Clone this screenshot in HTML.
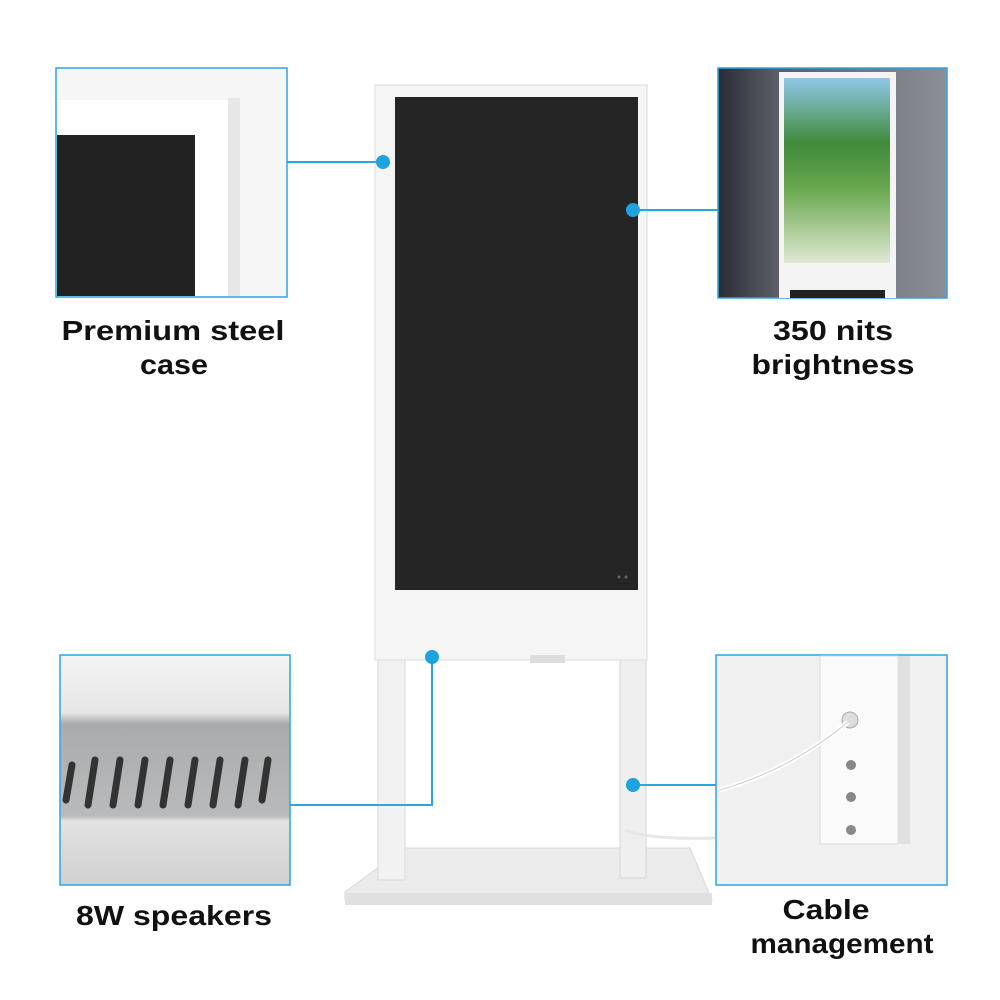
<!DOCTYPE html>
<html><head><meta charset="utf-8"><style>
body{margin:0;background:#fff}
svg{display:block}
text{font-family:"Liberation Sans",sans-serif;font-weight:bold;font-size:28px;fill:#111;text-anchor:middle}
</style></head><body>
<svg width="1000" height="1000" viewBox="0 0 1000 1000" xmlns="http://www.w3.org/2000/svg">
<defs>
<linearGradient id="sky" x1="0" y1="0" x2="0" y2="1"><stop offset="0" stop-color="#8fc8e8"/><stop offset="0.35" stop-color="#3f8a3a"/><stop offset="0.6" stop-color="#6aa84f"/><stop offset="1" stop-color="#dfe9d2"/></linearGradient>
<linearGradient id="wall" x1="0" y1="0" x2="1" y2="0"><stop offset="0" stop-color="#2a2c33"/><stop offset="0.25" stop-color="#5a5d66"/><stop offset="1" stop-color="#8c8f96"/></linearGradient>
<linearGradient id="spk" x1="0" y1="0" x2="0" y2="1"><stop offset="0" stop-color="#f4f4f4"/><stop offset="0.25" stop-color="#e6e6e6"/><stop offset="0.3" stop-color="#a9abad"/><stop offset="0.7" stop-color="#b8babc"/><stop offset="0.72" stop-color="#e2e2e2"/><stop offset="1" stop-color="#d0d0d0"/></linearGradient>
</defs>

<polygon points="405,848 690,848 712,900 345,900 345,892" fill="#ebebeb" stroke="#d8d8d8"/>
<rect x="345" y="893" width="367" height="12" fill="#e0e0e0"/>
<rect x="378" y="655" width="27" height="225" fill="#f2f2f2" stroke="#dadada"/>
<rect x="620" y="640" width="26" height="238" fill="#efefef" stroke="#d6d6d6"/>
<rect x="375" y="85" width="272" height="575" fill="#f5f5f5" stroke="#d9d9d9"/>
<rect x="395" y="97" width="243" height="493" fill="#252525"/>
<rect x="530" y="655" width="35" height="8" fill="#ddd"/>
<circle cx="619" cy="577" r="1.5" fill="#666"/><circle cx="626" cy="577" r="1.5" fill="#666"/>
<path d="M625 830 Q 650 840 715 838" stroke="#e6e6e6" stroke-width="3" fill="none"/>

<rect x="56" y="68" width="231" height="229" fill="#f6f6f6" stroke="#2aa6df" stroke-width="1.5"/>
<rect x="57" y="100" width="172" height="196" fill="#fff"/>
<rect x="57" y="135" width="138" height="161" fill="#222"/>
<rect x="228" y="98" width="12" height="198" fill="#e7e7e7"/>

<rect x="718" y="68" width="229" height="230" fill="url(#wall)" stroke="#2aa6df" stroke-width="1.5"/>
<rect x="779" y="72" width="117" height="226" fill="#f4f4f4"/>
<rect x="784" y="78" width="106" height="185" fill="url(#sky)"/>
<rect x="790" y="290" width="95" height="8" fill="#222"/>

<rect x="60" y="655" width="230" height="230" fill="url(#spk)" stroke="#2aa6df" stroke-width="1.5"/>
<g stroke="#333" stroke-width="7" stroke-linecap="round">
<line x1="72" y1="765" x2="66" y2="800"/><line x1="95" y1="760" x2="88" y2="805"/><line x1="120" y1="760" x2="113" y2="805"/><line x1="145" y1="760" x2="138" y2="805"/><line x1="170" y1="760" x2="163" y2="805"/><line x1="195" y1="760" x2="188" y2="805"/><line x1="220" y1="760" x2="213" y2="805"/><line x1="245" y1="760" x2="238" y2="805"/><line x1="268" y1="760" x2="262" y2="800"/>
</g>

<rect x="716" y="655" width="231" height="230" fill="#f0f0f0" stroke="#2aa6df" stroke-width="1.5"/>
<rect x="820" y="656" width="78" height="188" fill="#fafafa" stroke="#ddd"/>
<rect x="898" y="656" width="12" height="188" fill="#e0e0e0"/>
<circle cx="850" cy="720" r="8" fill="#ddd" stroke="#aaa"/>
<path d="M848 722 Q 790 770 720 790" stroke="#fff" stroke-width="5" fill="none"/>
<path d="M848 722 Q 790 770 720 790" stroke="#ccc" stroke-width="1" fill="none"/>
<circle cx="851" cy="765" r="5" fill="#888"/><circle cx="851" cy="797" r="5" fill="#888"/><circle cx="851" cy="830" r="5" fill="#888"/>

<g stroke="#2aa6df" stroke-width="2" fill="none">
<line x1="287" y1="162" x2="383" y2="162"/>
<line x1="633" y1="210" x2="718" y2="210"/>
<polyline points="432,657 432,805 290,805"/>
<line x1="633" y1="785" x2="716" y2="785"/>
</g>
<g fill="#1fa3e0">
<circle cx="383" cy="162" r="7"/><circle cx="633" cy="210" r="7"/><circle cx="432" cy="657" r="7"/><circle cx="633" cy="785" r="7"/>
</g>

<text x="173" y="340" textLength="223" lengthAdjust="spacingAndGlyphs">Premium steel</text>
<text x="174" y="374" textLength="68" lengthAdjust="spacingAndGlyphs">case</text>
<text x="833" y="340" textLength="120" lengthAdjust="spacingAndGlyphs">350 nits</text>
<text x="833" y="374" textLength="163" lengthAdjust="spacingAndGlyphs">brightness</text>
<text x="174" y="925" textLength="196" lengthAdjust="spacingAndGlyphs">8W speakers</text>
<text x="826" y="919" textLength="87" lengthAdjust="spacingAndGlyphs">Cable</text>
<text x="842" y="953" textLength="183" lengthAdjust="spacingAndGlyphs">management</text>
</svg>
</body></html>
